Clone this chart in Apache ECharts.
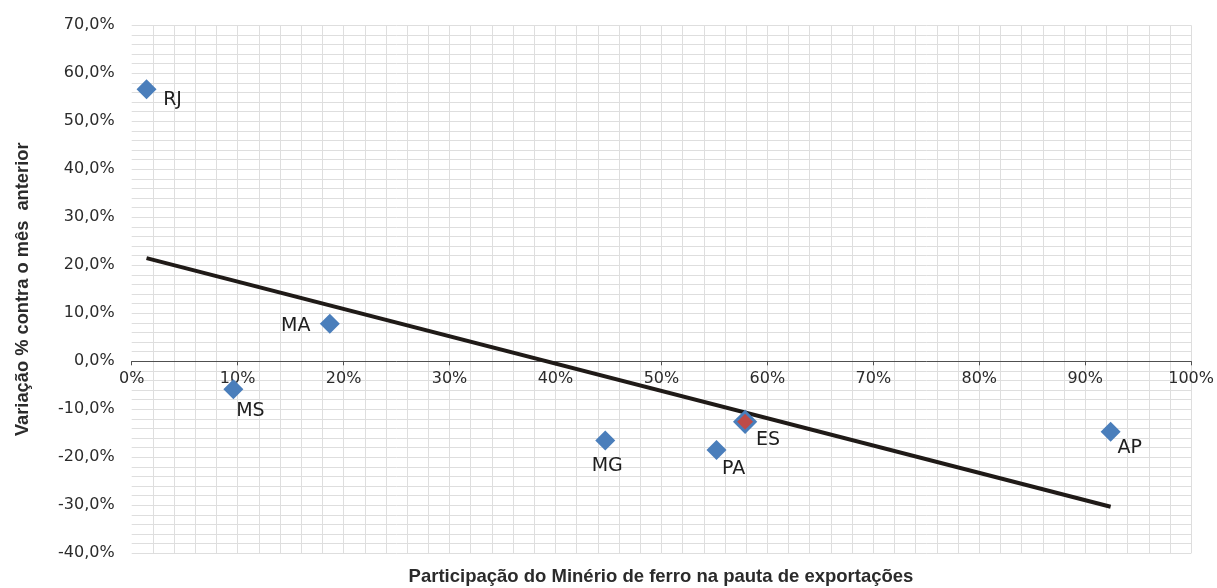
<!DOCTYPE html>
<html>
<head>
<meta charset="utf-8">
<script src="https://cdn.jsdelivr.net/npm/echarts@6/dist/echarts.min.js"></script>
<style>
html,body{margin:0;padding:0;background:#fff;}
#c{width:1217px;height:588px;}
</style>
</head>
<body>
<div id="c"></div>
<script>
// Data
const states = ['RJ', 'MS', 'MA', 'MG', 'PA', 'ES', 'AP'];
const ironOreShare = [1.4, 9.6, 18.7, 44.7, 55.2, 57.9, 92.4];      // % of export basket
const monthlyChange = [56.7, -5.8, 7.8, -16.5, -18.5, -12.6, -14.7]; // % vs previous month
const trendX = [1.4, 92.4];
const trendY = [21.5, -30.3];
const xTicks = [0, 10, 20, 30, 40, 50, 60, 70, 80, 90, 100];
const yTicks = [-40, -30, -20, -10, 0, 10, 20, 30, 40, 50, 60, 70];
const xTitle = 'Participação do Minério de ferro na pauta de exportações';
const yTitle = 'Variação % contra o mês  anterior';

// Layout (label offsets around each marker, not data)
const labelOffsets = {RJ:[26,11], MS:[17,22], MA:[-34,2], MG:[2,26], PA:[17,19], ES:[23,18], AP:[19,16]};

const FONT = 'DejaVu Sans';
const blue = '#4a7ebb';
const red = '#be4b48';
const grid = '#dedede';

const gridTop = 25.3, gridBottom = 34.7, plotH = 588 - gridTop - gridBottom;
const yMin = yTicks[0], yMax = yTicks[yTicks.length - 1];
// move the x axis up so it crosses the y axis at 0
const xAxisOffset = -plotH * (0 - yMin) / (yMax - yMin);

const pts = states.map((s, i) => ({
  value: [ironOreShare[i], monthlyChange[i]],
  name: s,
  itemStyle: s === 'ES' ? {color: red, borderColor: blue, borderWidth: 3, opacity: 1} : {color: blue, opacity: 1},
  symbolSize: 20,
  label: {offset: labelOffsets[s]}
}));

const chart = echarts.init(document.getElementById('c'), null, {renderer: 'canvas'});
chart.setOption({
  animation: false,
  backgroundColor: '#fff',
  grid: {left: 131.7, right: 25.3, top: gridTop, bottom: gridBottom, containLabel: false},
  xAxis: {
    type: 'value', min: xTicks[0], max: xTicks[xTicks.length - 1], interval: 10,
    position: 'bottom', offset: xAxisOffset,
    axisLine: {show: true, onZero: false, lineStyle: {color: '#505050', width: 1}},
    axisTick: {show: true, length: 4, lineStyle: {color: '#505050'}},
    axisLabel: {formatter: v => v + '%', color: '#2b2b2b', fontFamily: FONT, fontSize: 16, margin: 10},
    splitLine: {show: true, showMinLine: false, showMaxLine: true, lineStyle: {color: grid, width: 1}},
    minorTick: {show: false, splitNumber: 5},
    minorSplitLine: {show: true, lineStyle: {color: grid, width: 1}}
  },
  yAxis: {
    type: 'value', min: yMin, max: yMax, interval: 10,
    name: yTitle, nameLocation: 'middle', nameRotate: 90, nameGap: 100,
    nameTextStyle: {fontFamily: 'Liberation Sans', fontWeight: 'bold', fontSize: 18.3, color: '#2b2b2b'},
    axisLine: {show: false},
    axisTick: {show: false},
    axisLabel: {formatter: v => v.toFixed(1).replace('.', ',') + '%', color: '#2b2b2b', fontFamily: FONT, fontSize: 16, margin: 17},
    splitLine: {show: true, showMinLine: true, showMaxLine: true, lineStyle: {color: grid, width: 1}},
    minorTick: {show: false, splitNumber: 5},
    minorSplitLine: {show: true, lineStyle: {color: grid, width: 1}}
  },
  graphic: [{
    type: 'text', x: 661, y: 577,
    style: {text: xTitle, textAlign: 'center', textVerticalAlign: 'middle', font: 'bold 18.5px "Liberation Sans"', fill: '#2b2b2b'}
  }],
  series: [
    {
      type: 'line',
      data: trendX.map((x, i) => [x, trendY[i]]),
      symbol: 'none',
      lineStyle: {color: '#1f1a17', width: 4},
      z: 2, silent: true
    },
    {
      type: 'scatter',
      symbol: 'diamond',
      data: pts,
      z: 3,
      label: {
        show: true, position: 'inside', formatter: p => p.name,
        color: '#1e1e1e', fontFamily: FONT, fontSize: 19
      }
    }
  ]
});
</script>
</body>
</html>
